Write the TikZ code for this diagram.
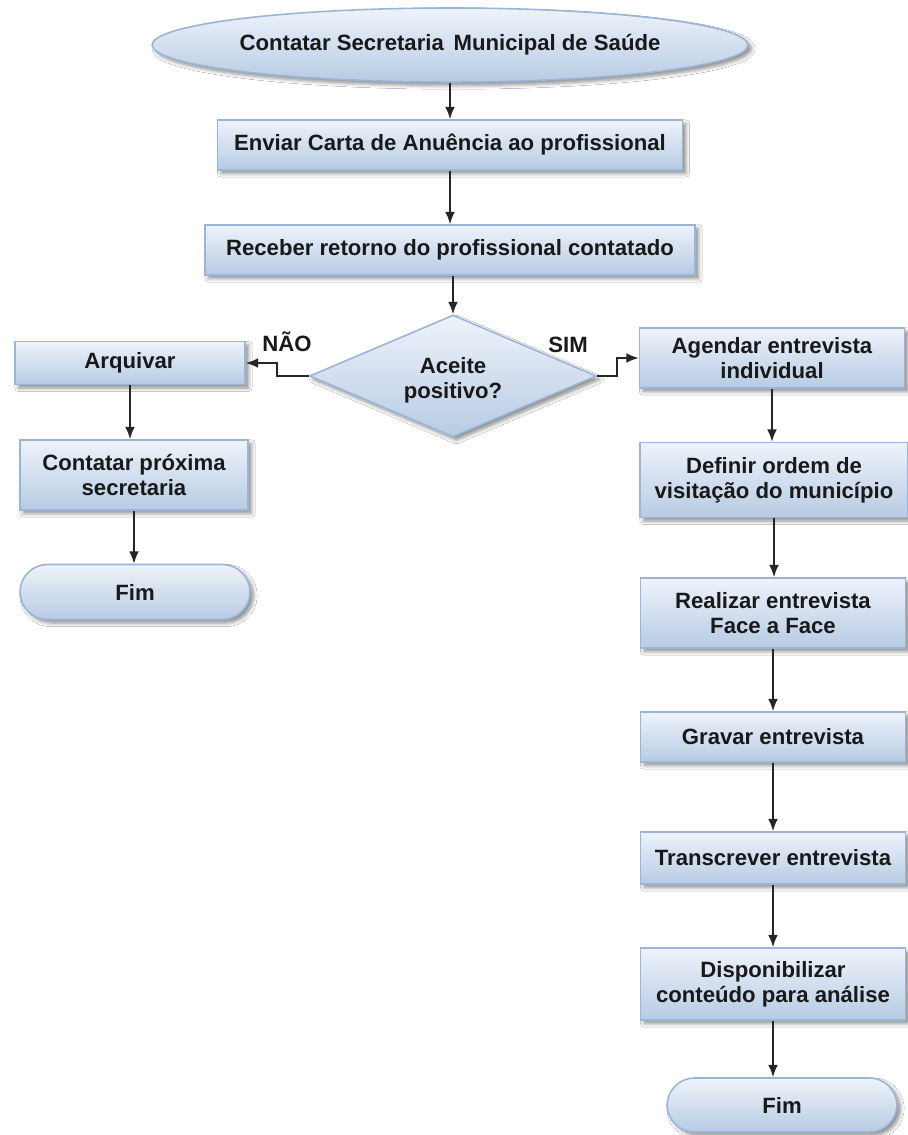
\documentclass[tikz,border=0pt]{standalone}
\usepackage{fontspec}
\setmainfont{Liberation Sans}
\usetikzlibrary{shapes.geometric,arrows.meta,shadows.blur}
\definecolor{boxtop}{HTML}{EEF3FA}
\definecolor{boxbot}{HTML}{B7CBE4}
\definecolor{boxline}{HTML}{9AB5D8}
\tikzset{
  base/.style={draw=boxline, line width=0.9pt, top color=boxtop, bottom color=boxbot,
    font=\bfseries\fontsize{12.6}{14.3}\selectfont, text=black!90, align=center,
    blur shadow={shadow xshift=0.07cm, shadow yshift=-0.07cm, shadow blur steps=6, shadow opacity=45}},
  procbox/.style={base, rectangle, inner sep=2pt},
  terminal/.style={base, rectangle, rounded corners=0.55cm},
  startel/.style={base, ellipse, inner sep=0pt},
  decision/.style={base, diamond, inner sep=0pt},
  arr/.style={-{Latex[length=7pt,width=5.5pt]}, line width=0.9pt, black!85},
  lbl/.style={font=\bfseries\fontsize{12.6}{14.3}\selectfont, text=black!90}
}
\begin{document}
\begin{tikzpicture}[x=0.02cm,y=-0.02cm]
\useasboundingbox[fill=white] (0,0) rectangle (908,1135);

% main column
\node[startel, minimum width=11.92cm, minimum height=1.48cm] (start) at (450,45) {Contatar Secretaria \,Municipal de Saúde};
\node[procbox, minimum width=9.3cm, minimum height=1.0cm] (enviar) at (450,145) {Enviar Carta de Anuência ao profissional};
\node[procbox, minimum width=9.8cm, minimum height=1.0cm] (receber) at (450,250) {Receber retorno do profissional contatado};
\node[decision, minimum width=5.74cm, minimum height=2.44cm] (aceite) at (453,376) {};
\node[font=\bfseries\fontsize{12.6}{14.3}\selectfont, text=black!90, align=center] (aceitetxt) at (453,380) {Aceite\\positivo?};

% refusal branch
\node[procbox, minimum width=4.6cm, minimum height=0.86cm] (arquivar) at (130,363) {Arquivar};
\node[procbox, minimum width=4.56cm, minimum height=1.4cm] (proxima) at (134,475) {Contatar próxima\\secretaria};
\node[terminal, minimum width=4.6cm, minimum height=1.1cm] (fim1) at (135,592) {Fim};

% acceptance branch
\node[procbox, minimum width=5.3cm, minimum height=1.2cm] (agendar) at (772,358) {Agendar entrevista\\individual};
\node[procbox, minimum width=5.36cm, minimum height=1.5cm] (definir) at (774,480) {Definir ordem de\\visitação do município};
\node[procbox, minimum width=5.3cm, minimum height=1.4cm] (realizar) at (773,613) {Realizar entrevista\\Face a Face};
\node[procbox, minimum width=5.3cm, minimum height=1.0cm] (gravar) at (773,737) {Gravar entrevista};
\node[procbox, minimum width=5.3cm, minimum height=1.04cm] (transcrever) at (773,858) {Transcrever entrevista};
\node[procbox, minimum width=5.3cm, minimum height=1.44cm] (disponibilizar) at (773,984) {Disponibilizar\\conteúdo para análise};
\node[terminal, minimum width=4.6cm, minimum height=1.08cm] (fim2) at (782,1105) {Fim};

% branch labels
\node[lbl] (nao) at (287,342) {NÃO};
\node[lbl] (sim) at (568,345) {SIM};

% connectors
\draw[arr] (start.south) -- (enviar.north);
\draw[arr] (enviar.south) -- (receber.north);
\draw[arr] (receber.south -| aceite.north) -- (aceite.north);
\draw[arr] (aceite.west) -- ++(-32,0) |- (arquivar.east);
\draw[arr] (aceite.east) -- ++(20,0) |- (agendar.west);
\draw[arr] (arquivar.south) -- (arquivar.south |- proxima.north);
\draw[arr] (proxima.south) -- (proxima.south |- fim1.north);
\draw[arr] (agendar.south) -- (definir.north -| agendar.south);
\draw[arr] (definir.south) -- (realizar.north -| definir.south);
\draw[arr] (realizar.south) -- (gravar.north -| realizar.south);
\draw[arr] (gravar.south) -- (transcrever.north -| gravar.south);
\draw[arr] (transcrever.south) -- (disponibilizar.north -| transcrever.south);
\draw[arr] (disponibilizar.south) -- (disponibilizar.south |- fim2.north);
\end{tikzpicture}
\end{document}
